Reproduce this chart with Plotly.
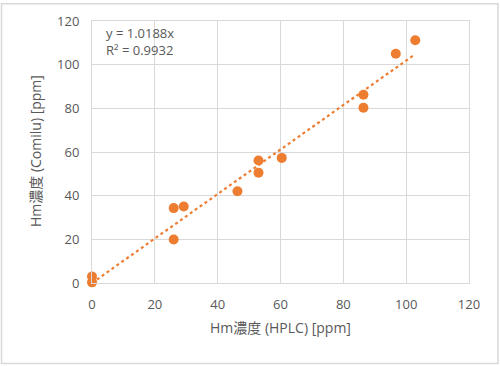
import plotly.graph_objects as go

x_hplc = [0, 0, 26.0, 29.2, 26.0, 46.3, 53.0, 53.0, 60.4, 86.4, 86.4, 96.7, 102.9]
y_comilu = [3.0, 0.3, 34.3, 35.0, 19.9, 42.0, 56.1, 50.5, 57.3, 86.2, 80.3, 105.0, 111.2]
slope = 1.0188
r2 = 0.9932
x_ticks = [0, 20, 40, 60, 80, 100, 120]
y_ticks = [0, 20, 40, 60, 80, 100, 120]

W, H = 500, 366
ml, mr, mt, mb = 92, 31, 19, 83
pw, ph = W - ml - mr, H - mt - mb

orange = "#ED7D31"
grid = "#D9D9D9"
txt = "#595959"
font = "Open Sans, Noto Sans CJK JP, sans-serif"

trend_x = [0, max(x_hplc)]
trend_y = [slope * v for v in trend_x]

fig = go.Figure()
fig.add_trace(go.Scatter(x=trend_x, y=trend_y, mode="lines",
                         line=dict(color=orange, width=2.2, dash="dot"),
                         hoverinfo="skip", showlegend=False))
fig.add_trace(go.Scatter(x=x_hplc, y=y_comilu, mode="markers",
                         marker=dict(color=orange, size=10),
                         cliponaxis=False, showlegend=False))

axis_common = dict(showgrid=True, gridcolor=grid, gridwidth=1, zeroline=False,
                   showline=True, linecolor=grid, linewidth=1, mirror=True,
                   tickfont=dict(family=font, size=13, color=txt),
                   ticks="outside", ticklen=9, tickcolor="rgba(0,0,0,0)")
fig.update_xaxes(range=[0, 120], tickvals=x_ticks, **axis_common)
fig.update_yaxes(range=[0, 120], tickvals=y_ticks, **axis_common)

fig.add_annotation(xref="paper", yref="paper", x=(280 - ml) / pw, y=(H - mb - 328) / ph,
                   xanchor="center", yanchor="middle",
                   text="Hm濃度 (HPLC) [ppm]", showarrow=False,
                   font=dict(family=font, size=14, color=txt))
fig.add_annotation(xref="paper", yref="paper", x=(35 - ml) / pw, y=(H - mb - 150) / ph,
                   xanchor="center", yanchor="middle",
                   text="Hm濃度 (Comilu) [ppm]", showarrow=False, textangle=-90,
                   font=dict(family=font, size=14, color=txt))
fig.add_annotation(xref="paper", yref="paper", x=(104 - ml) / pw, y=(H - mb - 40) / ph,
                   xanchor="left", yanchor="middle", align="left",
                   text=f"y = {slope}x<br>R² = {r2}", showarrow=False,
                   font=dict(family=font, size=13, color=txt))

fig.add_shape(type="rect", xref="paper", yref="paper",
              x0=(1.5 - ml) / pw, x1=(498 - ml) / pw,
              y0=(H - mb - 364) / ph, y1=(H - mb - 1.5) / ph,
              line=dict(color=grid, width=1.5), layer="below")

fig.update_layout(width=W, height=H, margin=dict(l=ml, r=mr, t=mt, b=mb),
                  paper_bgcolor="white", plot_bgcolor="white",
                  font=dict(family=font))
fig.write_html("out.html", config={"displayModeBar": False},
               post_script="document.body.style.margin='0';document.body.style.overflow='hidden';")
